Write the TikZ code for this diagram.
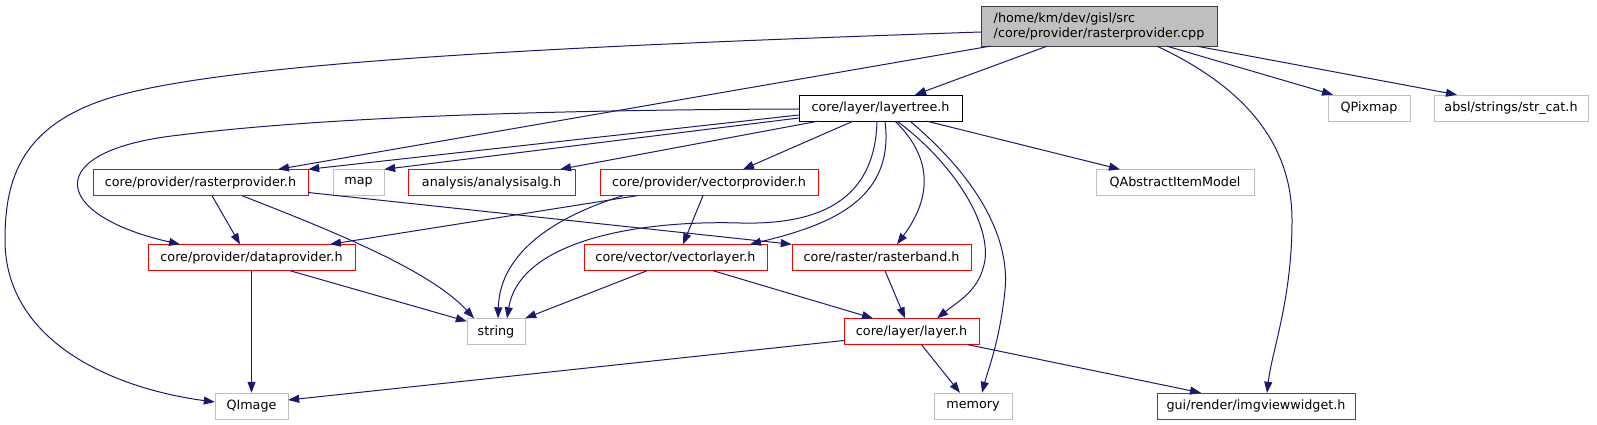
\documentclass[tikz,border=0pt]{standalone}
\usepackage{fontspec}
\setmainfont{DejaVu Sans}
\usetikzlibrary{arrows.meta}
\definecolor{edgeblue}{HTML}{191970}
\definecolor{boxgrey}{HTML}{BFBFBF}
\definecolor{rootline}{HTML}{404040}

\begin{document}
\begin{tikzpicture}[x=1pt,y=-1pt,
    every node/.style={draw,rectangle,inner sep=0pt,minimum height=26pt,fill=white,font=\fontsize{12.75}{15}\selectfont},
    redfile/.style={draw=red},
    sysfile/.style={draw=boxgrey},
    dep/.style={-{Triangle[length=11pt,width=8pt]},draw=edgeblue,line width=1pt}]
  \useasboundingbox (0,0) rectangle (1597,425);

  % rank 0 and 1
  \node[fill=boxgrey,draw=rootline,minimum width=236pt,minimum height=40pt,align=left] (cpp) at (1099,26) {/home/km/dev/gisl/src\\/core/provider/rasterprovider.cpp};
  \node[draw=black,minimum width=163pt] (lt) at (880.5,108) {core/layer/layertree.h};
  \node[sysfile,minimum width=82pt] (qpm) at (1369,108) {QPixmap};
  \node[sysfile,minimum width=154pt] (sc) at (1511,108) {absl/strings/str\_cat.h};

  % rank 2
  \node[redfile,minimum width=215pt] (rph) at (200.5,182.5) {core/provider/rasterprovider.h};
  \node[sysfile,minimum width=51pt] (map) at (358.5,182.5) {map};
  \node[redfile,minimum width=167pt] (alg) at (491.5,182.5) {analysis/analysisalg.h};
  \node[redfile,minimum width=218pt] (vph) at (709,182.5) {core/provider/vectorprovider.h};
  \node[sysfile,minimum width=158pt] (qaim) at (1175,182.5) {QAbstractItemModel};

  % rank 3
  \node[redfile,minimum width=207pt] (dph) at (251.5,257.5) {core/provider/dataprovider.h};
  \node[redfile,minimum width=183pt] (vl) at (675.5,257.5) {core/vector/vectorlayer.h};
  \node[redfile,minimum width=179pt] (rb) at (881.5,257.5) {core/raster/rasterband.h};

  % rank 4 and 5
  \node[sysfile,minimum width=58pt] (str) at (496,331.5) {string};
  \node[redfile,minimum width=135pt] (ly) at (911.5,331.5) {core/layer/layer.h};
  \node[sysfile,minimum width=73pt] (qi) at (251.5,406) {QImage};
  \node[sysfile,minimum width=78pt] (mem) at (973,406) {memory};
  \node[redfile,minimum width=198pt] (ivw) at (1256,406) {gui/render/imgviewwidget.h};

  % includes of the .cpp
  \draw[dep] ([yshift=-6pt]cpp.west) .. controls (600,45) and (250,60) .. (120,95) .. controls (20,122) and (5,180) .. (5,240) .. controls (5,340) and (110,388) .. ([yshift=4pt]qi.west);
  \draw[dep] ([xshift=-109pt]cpp.south) -- ([xshift=77.5pt]rph.north);
  \draw[dep] ([xshift=-52pt]cpp.south) -- ([xshift=34.5pt]lt.north);
  \draw[dep] ([xshift=58pt]cpp.south) .. controls (1240,85) and (1292,140) .. (1292,220) .. controls (1292,300) and (1272,350) .. ([xshift=11pt]ivw.north);
  \draw[dep] ([xshift=68pt]cpp.south) -- ([xshift=-36pt]qpm.north);
  \draw[dep] ([xshift=98pt]cpp.south) -- ([xshift=-54pt]sc.north);

  % layertree.h
  \draw[dep] ([yshift=-1pt]lt.west) .. controls (500,110) and (300,120) .. (180,135) .. controls (40,150) and (50,215) .. ([xshift=-71.5pt]dph.north);
  \draw[dep] ([yshift=-7pt]lt.west) -- (rph.north east);
  \draw[dep] ([yshift=-10pt]lt.west) -- (map.north east);
  \draw[dep] ([xshift=-62.5pt]lt.south) -- ([xshift=68.5pt]alg.north);
  \draw[dep] ([xshift=-27.5pt]lt.south) -- ([xshift=34pt]vph.north);
  \draw[dep] ([xshift=-3.5pt]lt.south) .. controls (875,200) and (820,225) .. (740,223) .. controls (640,220) and (520,240) .. ([xshift=11pt]str.north);
  \draw[dep] ([xshift=4.5pt]lt.south) .. controls (895,200) and (830,225) .. ([xshift=74.5pt]vl.north);
  \draw[dep] ([xshift=14.5pt]lt.south) .. controls (935,160) and (930,200) .. ([xshift=15.5pt]rb.north);
  \draw[dep] ([xshift=16.5pt]lt.south) .. controls (950,160) and (990,220) .. (985,260) .. controls (980,290) and (960,300) .. ([xshift=25.5pt]ly.north);
  \draw[dep] ([xshift=29.5pt]lt.south) .. controls (980,180) and (1010,240) .. (1005,290) .. controls (1000,340) and (988,370) .. ([xshift=9pt]mem.north);
  \draw[dep] ([xshift=46.5pt]lt.south) -- ([xshift=-55pt]qaim.north);

  % rank 2 headers
  \draw[dep] ([xshift=11.5pt]rph.south) -- ([xshift=-11.5pt]dph.north);
  \draw[dep] ([xshift=41.5pt]rph.south) .. controls (330,230) and (430,270) .. ([xshift=-22pt]str.north);
  \draw[dep] ([yshift=-10pt]rph.east) -- (rb.north west);
  \draw[dep] ([xshift=-72pt]vph.south) -- ([xshift=78.5pt]dph.north);
  \draw[dep] ([xshift=-86pt]vph.south) .. controls (560,215) and (500,250) .. ([xshift=2pt]str.north);
  \draw[dep] ([xshift=-6pt]vph.south) -- ([xshift=7.5pt]vl.north);

  % rank 3 and 4 headers
  \draw[dep] (dph.south) -- (qi.north);
  \draw[dep] ([xshift=38.5pt]dph.south) -- ([yshift=-3pt]str.north west);
  \draw[dep] ([xshift=-28.5pt]vl.south) -- (str.north east);
  \draw[dep] ([xshift=37.5pt]vl.south) -- ([xshift=-38.5pt]ly.north);
  \draw[dep] ([xshift=3.5pt]rb.south) -- ([xshift=-6.5pt]ly.north);
  \draw[dep] ([yshift=-9pt]ly.west) -- ([yshift=6pt]qi.east);
  \draw[dep] ([xshift=10pt]ly.south) -- ([xshift=-13pt]mem.north);
  \draw[dep] ([xshift=56.5pt]ly.south) -- ([xshift=-55pt]ivw.north);
\end{tikzpicture}
\end{document}
